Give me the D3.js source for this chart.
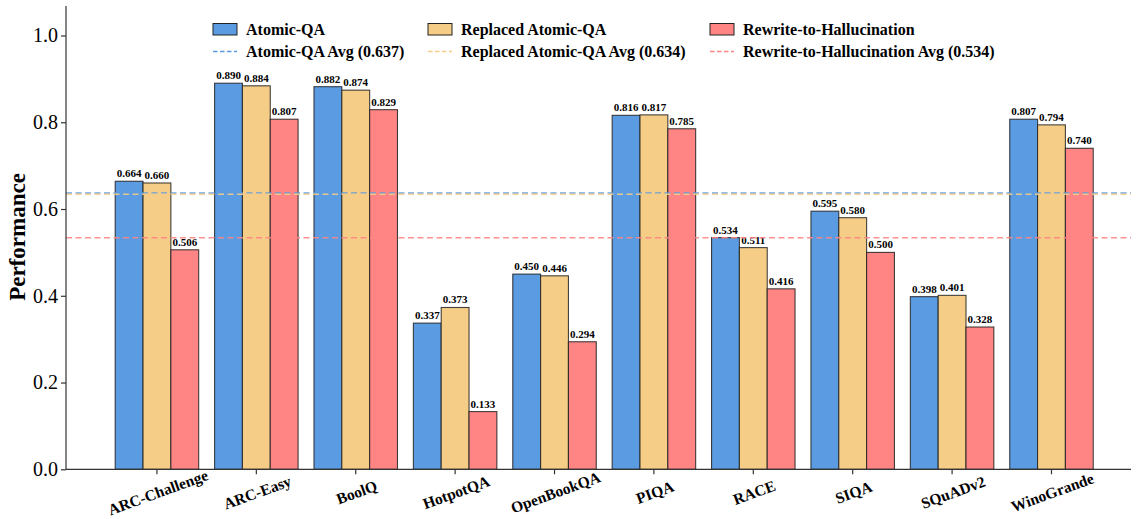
<!DOCTYPE html>
<html>
<head>
<meta charset="utf-8">
<script src="https://cdn.jsdelivr.net/npm/d3@7"></script>
<style>
body{margin:0;background:#fff;}
svg text{font-family:"Liberation Serif","DejaVu Serif",serif !important;}
</style>
</head>
<body>
<div id="vis"></div>
<script>
// data
var categories=["ARC-Challenge","ARC-Easy","BoolQ","HotpotQA","OpenBookQA","PIQA","RACE","SIQA","SQuADv2","WinoGrande"];
var atomic=[0.664,0.890,0.882,0.337,0.450,0.816,0.534,0.595,0.398,0.807];
var replaced=[0.660,0.884,0.874,0.373,0.446,0.817,0.511,0.580,0.401,0.794];
var rewrite=[0.506,0.807,0.829,0.133,0.294,0.785,0.416,0.500,0.328,0.740];
var seriesNames=["Atomic-QA","Replaced Atomic-QA","Rewrite-to-Hallucination"];
var yTicks=[0.0,0.2,0.4,0.6,0.8,1.0];

var colors=["#5b9be1","#f5cd87","#ff8585"];
var series=[atomic,replaced,rewrite];
var avgs=series.map(s=>Math.round(d3.mean(s)*1000)/1000);

var svg=d3.select("#vis").append("svg")
.attr("width",1137).attr("height",519);

var x=d3.scaleLinear().domain([-0.915,9.8]).range([66,1131]);
var y=d3.scaleLinear().domain([0,1.068]).range([469.3,6]);
var bw=0.28;

// bars
series.forEach(function(s,k){
  var g=svg.append("g");
  g.selectAll("rect").data(s).enter().append("rect")
  .attr("x",(d,i)=>x(i+(k-1)*bw-bw/2))
  .attr("width",x(bw)-x(0))
  .attr("y",d=>y(d))
  .attr("height",d=>y(0)-y(d))
  .attr("fill",colors[k])
  .attr("stroke","#222").attr("stroke-opacity",0.85).attr("stroke-width",1.1);
  g.selectAll("text").data(s).enter().append("text")
  .attr("x",(d,i)=>x(i+(k-1)*bw))
  .attr("y",d=>y(d)-4)
  .attr("text-anchor","middle")
  .attr("font-size",11).attr("font-weight","bold")
  .text(d=>d.toFixed(3));
});

// average lines
avgs.forEach(function(a,k){
  svg.append("line")
  .attr("x1",66).attr("x2",1131)
  .attr("y1",y(a)).attr("y2",y(a))
  .attr("stroke",colors[k]).attr("stroke-width",1.5)
  .attr("stroke-dasharray","6,3.5").attr("opacity",0.9);
});

// axes
var yAxis=svg.append("g").attr("transform","translate(66,0)")
.call(d3.axisLeft(y).tickValues(yTicks).tickFormat(d3.format(".1f")).tickSizeOuter(0).tickSize(5));
yAxis.select(".domain").attr("d","M0,6V469.3").attr("stroke","#333").attr("stroke-width",1.2);
yAxis.selectAll(".tick line").attr("stroke","#333").attr("stroke-width",1.2);
yAxis.selectAll(".tick text").attr("font-size",20).attr("fill","#000").attr("x",-8);

var xAxis=svg.append("g").attr("transform","translate(0,469.3)");
xAxis.append("line").attr("x1",66).attr("x2",1131).attr("stroke","#333").attr("stroke-width",1.2);
var xt=xAxis.selectAll("g.xt").data(categories).enter().append("g").attr("class","xt")
.attr("transform",(d,i)=>"translate("+x(i)+",0)");
xt.append("line").attr("y2",5).attr("stroke","#333").attr("stroke-width",1.2);
xt.append("text")
.attr("transform","translate(1,23) rotate(-20)")
.attr("text-anchor","middle").attr("dy","0.35em")
.attr("font-size",15.5).attr("font-weight","bold")
.text(d=>d);

svg.append("text").text("Performance")
.attr("transform","translate(25,237) rotate(-90)")
.attr("text-anchor","middle")
.attr("font-size",23).attr("font-weight","bold");

// legend
var colX=[213,428,710];
seriesNames.forEach(function(n,k){
  svg.append("rect").attr("x",colX[k]).attr("y",23.5).attr("width",24).attr("height",11.5)
  .attr("fill",colors[k]).attr("stroke","#222").attr("stroke-width",1);
  svg.append("text").attr("x",colX[k]+33).attr("y",34.5)
  .attr("font-size",16).attr("font-weight","bold").text(n);
  svg.append("line").attr("x1",colX[k]).attr("x2",colX[k]+24)
  .attr("y1",51.5).attr("y2",51.5)
  .attr("stroke",colors[k]).attr("stroke-width",1.5).attr("stroke-dasharray","4.5,2.5");
  svg.append("text").attr("x",colX[k]+33).attr("y",57)
  .attr("font-size",16).attr("font-weight","bold")
  .text(n+" Avg ("+avgs[k].toFixed(3)+")");
});
</script>
</body>
</html>
